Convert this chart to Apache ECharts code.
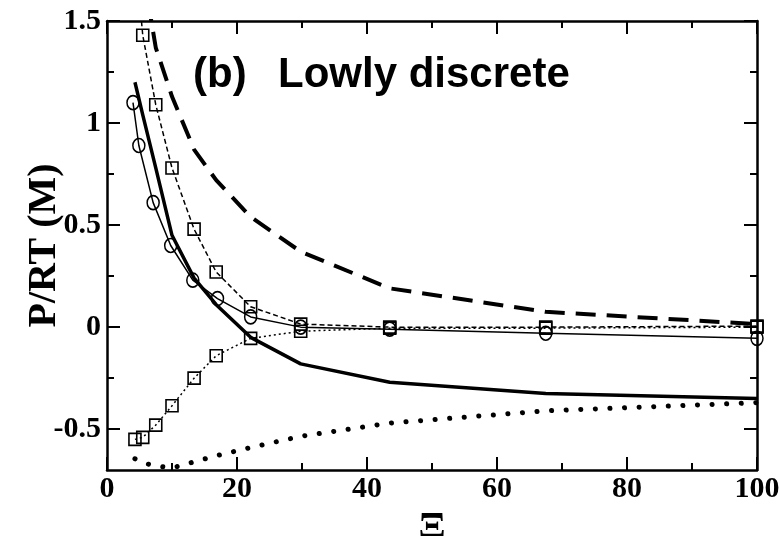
<!DOCTYPE html>
<html>
<head>
<meta charset="utf-8">
<script src="https://cdn.jsdelivr.net/npm/echarts@6/dist/echarts.min.js"></script>
<style>
  html, body { margin: 0; padding: 0; background: #fff; }
  #chart { width: 780px; height: 536px; }
</style>
</head>
<body>
<div id="chart"></div>
<script>
// Ξ values of the simulated systems (squares and model curves share them)
const xi = [4.3, 5.5, 7.5, 10.0, 13.4, 16.8, 22.1, 29.8, 43.5, 67.5, 100];
// Ξ values of the circle data set
const xiCircle = [4.0, 4.9, 7.1, 9.8, 13.2, 17.0, 22.1, 29.8, 43.5, 67.5, 100];

// Model curves
const thickSolid = [1.20, 1.04, 0.78, 0.45, 0.24, 0.11, -0.05, -0.18, -0.27, -0.325, -0.35];
const longDash = [2.2, 1.75, 1.37, 1.13, 0.87, 0.72, 0.54, 0.37, 0.19, 0.075, 0.015];
const thickDots = [-0.645, -0.665, -0.68, -0.69, -0.66, -0.63, -0.59, -0.535, -0.47, -0.41, -0.37];

// Simulation data
const squaresUpper = [1.85, 1.43, 1.09, 0.78, 0.48, 0.27, 0.10, 0.015, 0.0, 0.0, 0.005];
const squaresLower = [-0.55, -0.54, -0.48, -0.385, -0.25, -0.14, -0.055, -0.02, -0.005, -0.005, 0.0];
const circles = [1.10, 0.89, 0.61, 0.40, 0.23, 0.14, 0.05, 0.0, -0.01, -0.03, -0.055];

// Axis ticks
const yMajor = [-0.5, 0, 0.5, 1, 1.5];
const yMinor = [-0.25, 0.25, 0.75, 1.25];

const pairs = (xs, ys) => xs.map((x, i) => [x, ys[i]]);

const serif = '"Liberation Serif", "Times New Roman", serif';
const sans = '"Liberation Sans", Arial, sans-serif';
const frame = { show: true, onZero: false, lineStyle: { color: '#000', width: 2.5 } };

function xAxisDef(pos, labels) {
  return {
    type: 'value', position: pos, min: 0, max: 100, interval: 20,
    axisLine: frame,
    axisTick: { show: true, inside: true, length: 13, lineStyle: { color: '#000', width: 2 } },
    minorTick: { show: true, splitNumber: 2, length: 7, lineStyle: { color: '#000', width: 2 } },
    splitLine: { show: false }, minorSplitLine: { show: false },
    axisLabel: labels ? {
      show: true, margin: 4, color: '#000',
      fontFamily: serif, fontWeight: 'bold', fontSize: 30
    } : { show: false }
  };
}

function yAxisDef(pos, ticks, len, labels, line) {
  return {
    type: 'value', position: pos, min: -0.7, max: 1.5,
    axisLine: line ? frame : { show: false, onZero: false },
    axisTick: { show: true, inside: true, length: len, customValues: ticks,
                lineStyle: { color: '#000', width: 2 } },
    splitLine: { show: false },
    axisLabel: labels ? {
      show: true, margin: 6, color: '#000', customValues: ticks,
      fontFamily: serif, fontWeight: 'bold', fontSize: 30
    } : { show: false }
  };
}

const hollow = { color: 'rgba(0,0,0,0)', borderColor: '#000', borderWidth: 1.6 };

const option = {
  animation: false,
  backgroundColor: '#fff',
  grid: { left: 107, right: 23, top: 21, bottom: 66, containLabel: false, outerBoundsMode: 'none' },
  xAxis: [
    Object.assign(xAxisDef('bottom', true), {
      name: 'Ξ', nameLocation: 'middle', nameGap: 39, nameMoveOverlap: false,
      nameTextStyle: { fontFamily: serif, fontWeight: 'bold', fontSize: 40, color: '#000' }
    }),
    xAxisDef('top', false)
  ],
  yAxis: [
    Object.assign(yAxisDef('left', yMajor, 13, true, true), {
      name: 'P/RT (M)', nameLocation: 'middle', nameGap: 42, nameRotate: 90, nameMoveOverlap: false,
      nameTextStyle: { fontFamily: serif, fontWeight: 'bold', fontSize: 40, color: '#000' }
    }),
    yAxisDef('left', yMinor, 7, false, false),
    yAxisDef('right', yMajor, 13, false, true),
    yAxisDef('right', yMinor, 7, false, false)
  ],
  graphic: [
    { type: 'text', left: 193, top: 54,
      style: { text: '(b)', fontFamily: sans, fontWeight: 'bold', fontSize: 42, fill: '#000' } },
    { type: 'text', left: 278, top: 54,
      style: { text: 'Lowly discrete', fontFamily: sans, fontWeight: 'bold', fontSize: 42, fill: '#000' } }
  ],
  series: [
    {
      type: 'line', data: pairs(xi, longDash), symbol: 'none', clip: true,
      lineStyle: { color: '#000', width: 4, type: [20, 11] }
    },
    {
      type: 'line', data: pairs(xi, thickDots), symbol: 'none', clip: true,
      lineStyle: { color: '#000', width: 5, type: [0.1, 14.5], cap: 'round' }
    },
    {
      type: 'line', data: pairs(xi, thickSolid), symbol: 'none', clip: true,
      lineStyle: { color: '#000', width: 3.5 }
    },
    {
      type: 'line', data: pairs(xi, squaresUpper), symbol: 'rect', symbolSize: 12, clip: true,
      lineStyle: { color: '#000', width: 1.5, type: [5, 3] }, itemStyle: hollow
    },
    {
      type: 'line', data: pairs(xi, squaresLower), symbol: 'rect', symbolSize: 12, clip: true,
      lineStyle: { color: '#000', width: 1.5, type: [2, 3] }, itemStyle: hollow
    },
    {
      type: 'line', data: pairs(xiCircle, circles), symbol: 'circle', symbolSize: [12, 14], clip: true,
      lineStyle: { color: '#000', width: 1.5 }, itemStyle: hollow
    }
  ]
};

const chart = echarts.init(document.getElementById('chart'), null, { renderer: 'canvas' });
chart.setOption(option);
</script>
</body>
</html>
